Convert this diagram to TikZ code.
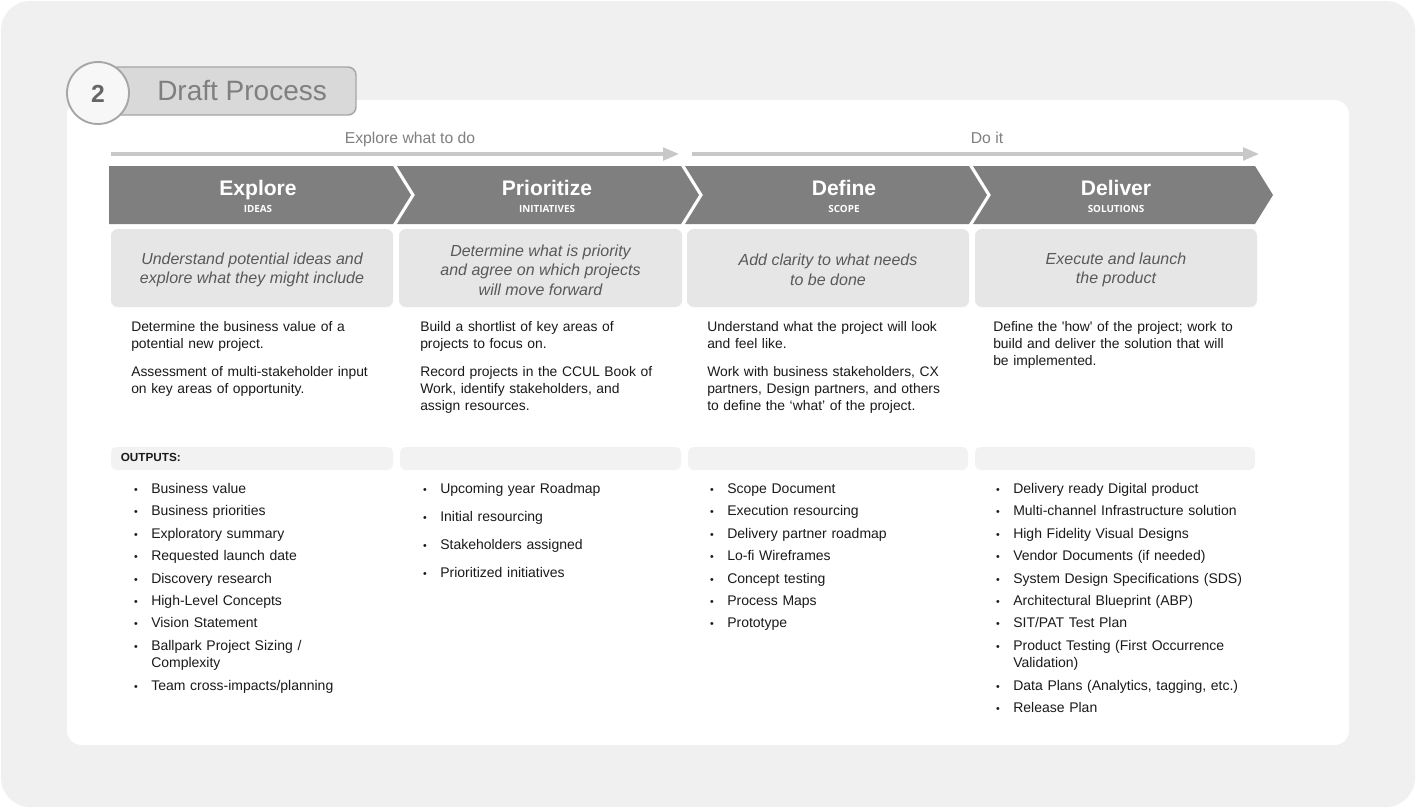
\documentclass[tikz,border=0pt]{standalone}
\usepackage{fontspec}
\setmainfont{Liberation Sans}
\newfontfamily\nomap{Liberation Sans}
\newfontfamily\chevfont{Open Sans}
\usetikzlibrary{arrows.meta}
\definecolor{bgout}{HTML}{F0F0F0}
\definecolor{tabfill}{HTML}{D9D9D9}
\definecolor{tabline}{HTML}{A6A6A6}
\definecolor{chev}{HTML}{7F7F7F}
\definecolor{italbox}{HTML}{E6E6E6}
\definecolor{outbar}{HTML}{F2F2F2}
\definecolor{arrowc}{HTML}{C8C8C8}
\definecolor{graytext}{HTML}{7F7F7F}
\definecolor{numtext}{HTML}{666666}
\definecolor{italtext}{HTML}{595959}
\definecolor{bodytext}{HTML}{1A1A1A}
\definecolor{circfill}{HTML}{F7F7F7}
\newcommand\outlist[3]{%
  \foreach \yy/\txt [count=\k] in {#3} {%
    \node[bul] (#1b\k) at (#2,\yy) {•};
    \node[item] (#1i\k) at (#2+15,\yy) {\txt};
  }}
\begin{document}
\begin{tikzpicture}[x=0.75pt,y=-0.75pt,
  desc/.style={anchor=base west, inner sep=0pt, text width=230pt, align=left,
    text=bodytext, font=\fontsize{10.4}{12.75}\selectfont},
  item/.style={anchor=base west, inner sep=0pt, text width=220pt, align=left,
    text=bodytext, font=\fontsize{10.5}{12.75}\selectfont},
  bul/.style={anchor=base, inner sep=0pt, text=bodytext, font=\fontsize{8}{10}\selectfont},
  ital/.style={anchor=center, inner sep=0pt, align=center, text=italtext,
    font=\fontsize{12}{14.6}\selectfont\itshape},
  ctitle/.style={anchor=base, inner sep=0pt, text=white, font=\fontsize{15.8}{18}\selectfont\bfseries},
  csub/.style={anchor=base, inner sep=0pt, text=white, font=\chevfont\fontsize{7.4}{8}\selectfont\bfseries},
  chevron/.style={fill=chev},
  ibox/.style={fill=italbox, rounded corners=5pt},
  obar/.style={fill=outbar, rounded corners=4pt},
  flowarrow/.style={draw=arrowc, line width=2.4pt, -{Triangle[length=12pt,width=9.5pt]}},
  phase/.style={anchor=base, inner sep=0pt, text=graytext, font=\fontsize{11.8}{13}\selectfont}
]
\useasboundingbox (0,0) rectangle (1416,808);
\fill[white] (0,0) rectangle (1416,808);
\fill[bgout, rounded corners=22pt] (1,1) rectangle (1415,807);
\fill[white, rounded corners=11pt] (67,100) rectangle (1349,745);

% header
\draw[draw=tabline, fill=tabfill, line width=1.1pt, rounded corners=6pt] (110,67) rectangle (356,115);
\node[circle, draw=tabline, fill=circfill, line width=1.4pt, minimum size=46.5pt, inner sep=0pt] (numc) at (98,93) {};
\node[anchor=base, inner sep=0pt, text=numtext, font=\fontsize{18.5}{20}\selectfont\bfseries] (num) at (98,102) {2};
\node[anchor=base west, inner sep=0pt, text=graytext, font=\fontsize{21}{24}\selectfont] (title) at (157,100.5) {Draft Process};

% phase arrows
\node[phase] (ph1) at (410,143) {Explore what to do};
\node[phase] (ph2) at (987,143) {Do it};
\coordinate (a1s) at (111,154); \coordinate (a1e) at (679,154);
\coordinate (a2s) at (692,154); \coordinate (a2e) at (1259,154);
\draw[flowarrow] (a1s) -- (a1e);
\draw[flowarrow] (a2s) -- (a2e);

% chevrons
\fill[chevron] (109,166) -- (393,166) -- (411,195) -- (393,224) -- (109,224) -- cycle;
\fill[chevron] (397,166) -- (681,166) -- (699,195) -- (681,224) -- (397,224) -- (415,195) -- cycle;
\fill[chevron] (685,166) -- (969,166) -- (987,195) -- (969,224) -- (685,224) -- (703,195) -- cycle;
\fill[chevron] (973,166) -- (1255,166) -- (1273,195) -- (1255,224) -- (973,224) -- (991,195) -- cycle;
\node[ctitle] (t1) at (258,195) {Explore};
\node[csub] (s1) at (258,212) {IDEAS};
\node[ctitle] (t2) at (547,195) {Prioritize};
\node[csub] (s2) at (547,212) {INITIATIVES};
\node[ctitle] (t3) at (844,195) {Define};
\node[csub] (s3) at (844,212) {SCOPE};
\node[ctitle] (t4) at (1116,195) {Deliver};
\node[csub] (s4) at (1116,212) {SOLUTIONS};

% italic boxes
\fill[ibox] (111,229) rectangle (393,307);
\fill[ibox] (399,229) rectangle (682,307);
\fill[ibox] (687,229) rectangle (969,307);
\fill[ibox] (975,229) rectangle (1257,307);
\node[ital] (i1) at (252,270) {Understand potential ideas and\\explore what they might include};
\node[ital] (i2) at (540.5,270) {Determine what is priority\\and agree on which projects\\will move forward};
\node[ital] (i3) at (828,270) {Add clarity to what needs\\to be done};
\node[ital] (i4) at (1116,270) {Execute and launch\\the product};

% descriptions
\node[desc] (d1a) at (131,331) {Determine the business value of a\\potential new project.};
\node[desc] (d1b) at (131,376) {Assessment of multi-stakeholder input\\on key areas of opportunity.};
\node[desc] (d2a) at (420,331) {Build a shortlist of key areas of\\projects to focus on.};
\node[desc] (d2b) at (420,376) {Record projects in the CCUL Book of\\Work, identify stakeholders, and\\assign resources.};
\node[desc] (d3a) at (707,331) {Understand what the project will look\\and feel like.};
\node[desc] (d3b) at (707,376) {Work with business stakeholders, CX\\partners, Design partners, and others\\to define the ‘what’ of the project.};
\node[desc] (d4a) at (993,331) {Define the {\nomap'}how{\nomap'} of the project; work to\\build and deliver the solution that will\\be implemented.};

% outputs bars
\fill[obar] (111,447) rectangle (393,470);
\fill[obar] (400,447) rectangle (681,470);
\fill[obar] (688,447) rectangle (968,470);
\fill[obar] (975,447) rectangle (1255,470);
\node[anchor=base west, inner sep=0pt, text=bodytext, font=\fontsize{8.8}{10}\selectfont\bfseries] (outs) at (120.5,461.5) {OUTPUTS:};

% lists
\outlist{e}{136}{493/Business value, 515/Business priorities, 538/Exploratory summary,
  560/Requested launch date, 583/Discovery research, 605/High-Level Concepts,
  627/Vision Statement, 650/{Ballpark Project Sizing /\\Complexity},
  690/{Team cross-impacts/planning}}
\outlist{p}{425}{493/Upcoming year Roadmap, 521/Initial resourcing,
  549/Stakeholders assigned, 577/Prioritized initiatives}
\outlist{f}{712}{493/Scope Document, 515/Execution resourcing, 538/Delivery partner roadmap,
  560/Lo-fi Wireframes, 583/Concept testing, 605/Process Maps, 627/Prototype}
\outlist{v}{998}{493/Delivery ready Digital product, 515/Multi-channel Infrastructure solution,
  538/High Fidelity Visual Designs, 560/Vendor Documents (if needed),
  583/System Design Specifications (SDS), 605/Architectural Blueprint (ABP),
  627/{SIT/PAT Test Plan}, 650/{Product Testing (First Occurrence\\Validation)},
  690/{Data Plans (Analytics, tagging, etc.)}, 712/Release Plan}
\end{tikzpicture}
\end{document}
